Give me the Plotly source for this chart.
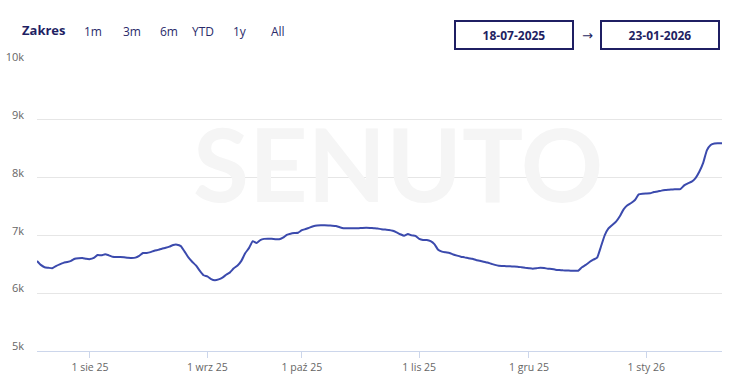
import pandas as pd
import plotly.graph_objects as go

# ---- data ----
start_date = "2025-07-18"
end_date = "2026-01-23"
missing_dates = ["2025-09-10", "2025-09-11", "2025-09-12", "2025-09-13", "2025-09-14",
                 "2025-11-15", "2026-01-06", "2026-01-07"]
values = [
    6557, 6490, 6450, 6440, 6430, 6470, 6500, 6525, 6540, 6560,
    6595, 6605, 6610, 6595, 6590, 6610, 6660, 6655, 6675, 6655,
    6630, 6625, 6625, 6620, 6612, 6610, 6615, 6645, 6695, 6695,
    6710, 6735, 6750, 6770, 6785, 6805, 6835, 6840, 6815, 6720,
    6620, 6545, 6480, 6390, 6310, 6290, 6245, 6225, 6240, 6270,
    6320, 6360, 6430, 6480, 6560, 6690, 6780, 6900, 6870, 6920,
    6940, 6943, 6940, 6935, 6932, 6960, 7010, 7030, 7040, 7046,
    7090, 7110, 7135, 7157, 7170, 7175, 7175, 7172, 7168, 7163,
    7140, 7123, 7122, 7124, 7123, 7125, 7130, 7134, 7130, 7125,
    7120, 7108, 7100, 7095, 7080, 7053, 7020, 6995, 7024, 7000,
    6992, 6940, 6920, 6920, 6900, 6850, 6750, 6720, 6707, 6695,
    6670, 6650, 6632, 6620, 6605, 6595, 6575, 6560, 6545, 6530,
    6510, 6490, 6476, 6472, 6468, 6465, 6462, 6459, 6450, 6440,
    6432, 6424, 6432, 6441, 6435, 6424, 6418, 6407, 6400, 6395,
    6392, 6390, 6389, 6389, 6450, 6490, 6540, 6580, 6614, 6804,
    7000, 7120, 7180, 7238, 7330, 7450, 7520, 7560, 7612, 7710,
    7722, 7725, 7728, 7750, 7760, 7775, 7785, 7790, 7795, 7798,
    7802, 7865, 7900, 7929, 7990, 8100, 8250, 8470, 8564, 8590,
    8593, 8595,
]
x_tick_dates = ["2025-08-01", "2025-09-01", "2025-10-01", "2025-11-01", "2025-12-01", "2026-01-01"]
x_tick_labels = ["1 sie 25", "1 wrz 25", "1 paź 25", "1 lis 25", "1 gru 25", "1 sty 26"]
y_tick_vals = [5000, 6000, 7000, 8000, 9000, 10000]
y_tick_labels = ["5k", "6k", "7k", "8k", "9k", "10k"]
range_buttons = ["1m", "3m", "6m", "YTD", "1y", "All"]
range_from = "18-07-2025"
range_to = "23-01-2026"

all_days = pd.date_range(start_date, end_date, freq="D").strftime("%Y-%m-%d").tolist()
dates = [d for d in all_days if d not in set(missing_dates)]

# ---- layout geometry ----
W, H = 743, 383
ML, MR, MT, MB = 37, 21, 62, 32
PW, PH = W - ML - MR, H - MT - MB

def px(x):
    return (x - ML) / PW

def py(y):
    return (H - MB - y) / PH

FONT = "Open Sans, sans-serif"
NAVY = "#1f1f63"

fig = go.Figure()
fig.add_trace(go.Scatter(
    x=dates, y=values, mode="lines",
    line=dict(color="#3b4aad", width=2, shape="spline", smoothing=0.4),
    hoverinfo="skip", showlegend=False,
))

annotations = []
# watermark
annotations.append(dict(
    text="<b>SENUTO</b>", x=px(398), y=py(162), xref="paper", yref="paper",
    showarrow=False, font=dict(family="Lato, sans-serif", size=102, color="#f5f5f5"),
    xanchor="center", yanchor="middle",
))
# range selector labels
annotations.append(dict(
    text="<b>Zakres</b>", x=px(44), y=py(30), xref="paper", yref="paper",
    showarrow=False, font=dict(family=FONT, size=13, color=NAVY),
    xanchor="center", yanchor="middle",
))
for label, cx in zip(range_buttons, [93, 132, 169, 203, 240, 278]):
    annotations.append(dict(
        text=label, x=px(cx), y=py(32), xref="paper", yref="paper",
        showarrow=False, font=dict(family=FONT, size=12, color="#2a2a6a"),
        xanchor="center", yanchor="middle",
    ))
# date inputs
for label, cx in [(range_from, 514), (range_to, 660)]:
    annotations.append(dict(
        text="<b>" + label + "</b>", x=px(cx), y=py(35), xref="paper", yref="paper",
        showarrow=False, font=dict(family=FONT, size=12, color=NAVY),
        xanchor="center", yanchor="middle", width=116, height=26,
        bordercolor=NAVY, borderwidth=2, borderpad=0, bgcolor="white",
    ))
annotations.append(dict(
    text="→", x=px(587), y=py(36), xref="paper", yref="paper",
    showarrow=False, font=dict(family="DejaVu Sans, sans-serif", size=13, color=NAVY),
    xanchor="center", yanchor="middle",
))

fig.update_layout(
    width=W, height=H,
    margin=dict(l=ML, r=MR, t=MT, b=MB, pad=0),
    paper_bgcolor="white", plot_bgcolor="white",
    font=dict(family=FONT, size=11, color="#666666"),
    annotations=annotations,
    xaxis=dict(
        type="category", range=[0, len(dates) - 1], automargin=False,
        tickmode="array", tickvals=x_tick_dates, ticktext=x_tick_labels,
        ticks="outside", ticklen=6, tickcolor="#ccd6eb", tickwidth=1,
        showline=True, linecolor="#ccd6eb", linewidth=1,
        showgrid=False, zeroline=False,
        tickfont=dict(family=FONT, size=10.5, color="#666666"),
        fixedrange=True,
    ),
    yaxis=dict(
        range=[5000, 10000], tickmode="array", automargin=False,
        tickvals=y_tick_vals, ticktext=y_tick_labels,
        showgrid=True, gridcolor="#e6e6e6", gridwidth=1,
        zeroline=False, showline=False, ticks="",
        ticklabelposition="outside top", ticklabelstandoff=12,
        ticklabelshift=3,
        tickfont=dict(family=FONT, size=11, color="#666666"),
        fixedrange=True,
    ),
)

fig.write_html(
    "out.html",
    config={"displayModeBar": False},
    post_script="document.body.style.margin='0';",
)
